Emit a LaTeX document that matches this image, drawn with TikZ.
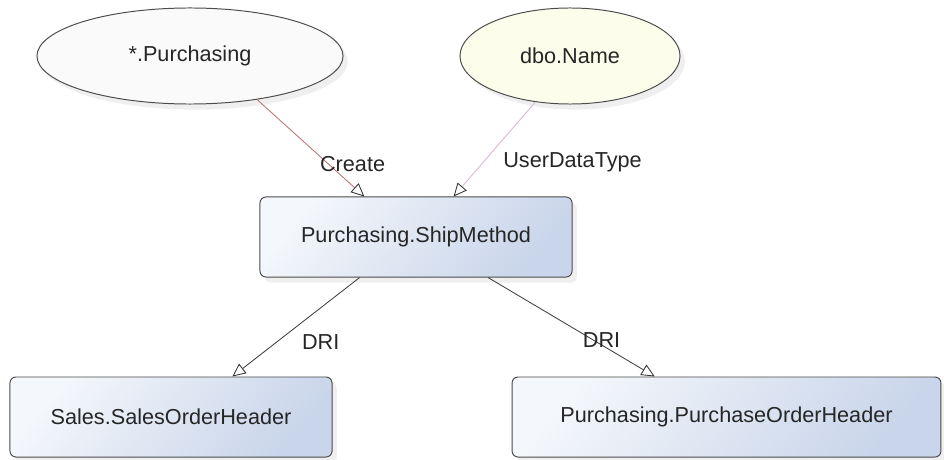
\documentclass[tikz,border=0pt]{standalone}
\usepackage{fontspec}
\setmainfont{Liberation Sans}
\usetikzlibrary{arrows.meta,shapes.geometric,shadows,calc}

\definecolor{boxlight}{HTML}{F4F7FB}
\definecolor{boxdark}{HTML}{C9D5EA}
\definecolor{ellwhite}{HTML}{FAFAFA}
\definecolor{ellyellow}{HTML}{FDFDEC}
\definecolor{createred}{HTML}{B87474}
\definecolor{udtpink}{HTML}{D9B6D2}

\begin{document}
\begin{tikzpicture}[
  x=0.025cm, y=-0.025cm,
  font=\fontsize{15.4}{18}\selectfont,
  entity/.style={draw=black!70, line width=0.7pt, rounded corners=0.15cm,
    minimum width=7.8cm, minimum height=2cm, text=black!85,
    top color=boxlight, bottom color=boxdark, shading angle=50,
    drop shadow={shadow xshift=0.12cm, shadow yshift=-0.14cm, opacity=0.12}},
  owner/.style={ellipse, draw=black!70, line width=0.7pt, inner sep=0pt,
    minimum height=2.4cm, text=black!85,
    drop shadow={shadow xshift=0.12cm, shadow yshift=-0.14cm, opacity=0.12}},
  link/.style={-{Triangle[length=0.33cm, width=0.3cm, color=black!80, fill=white]},
    line width=0.6pt},
  lbl/.style={anchor=west, text=black!85}
]
\useasboundingbox[fill=white] (0,0) rectangle (944,459);

% schemas and user types
\node[owner, fill=ellwhite, minimum width=7.65cm] (purch) at (190,56) {*.Purchasing};
\node[owner, fill=ellyellow, minimum width=5.5cm] (dboname) at (570,56) {dbo.Name};

% tables
\node[entity] (ship) at (416,237) {Purchasing.ShipMethod};
\node[entity, minimum width=8.05cm] (sales) at (171,417) {Sales.SalesOrderHeader};
\node[entity, minimum width=10.72cm] (porder) at (726.5,417) {Purchasing.PurchaseOrderHeader};

% dependencies
\draw[link, draw=createred] (purch.-33) --
  node[lbl, pos=0.67, xshift=-0.35cm] {Create}
  ($(ship.north west)!0.335!(ship.north east)$);
\draw[link, draw=udtpink] (dboname.-127) --
  node[lbl, pos=0.64, xshift=0.38cm] {UserDataType}
  ($(ship.north west)!0.62!(ship.north east)$);
\draw[link, draw=black!75] ($(ship.south west)!0.32!(ship.south east)$) --
  node[lbl, pos=0.65, xshift=0.5cm] {DRI}
  ($(sales.north west)!0.69!(sales.north east)$);
\draw[link, draw=black!75] ($(ship.south west)!0.73!(ship.south east)$) --
  node[lbl, pos=0.63, xshift=-0.38cm] {DRI}
  ($(porder.north west)!0.333!(porder.north east)$);
\end{tikzpicture}
\end{document}
